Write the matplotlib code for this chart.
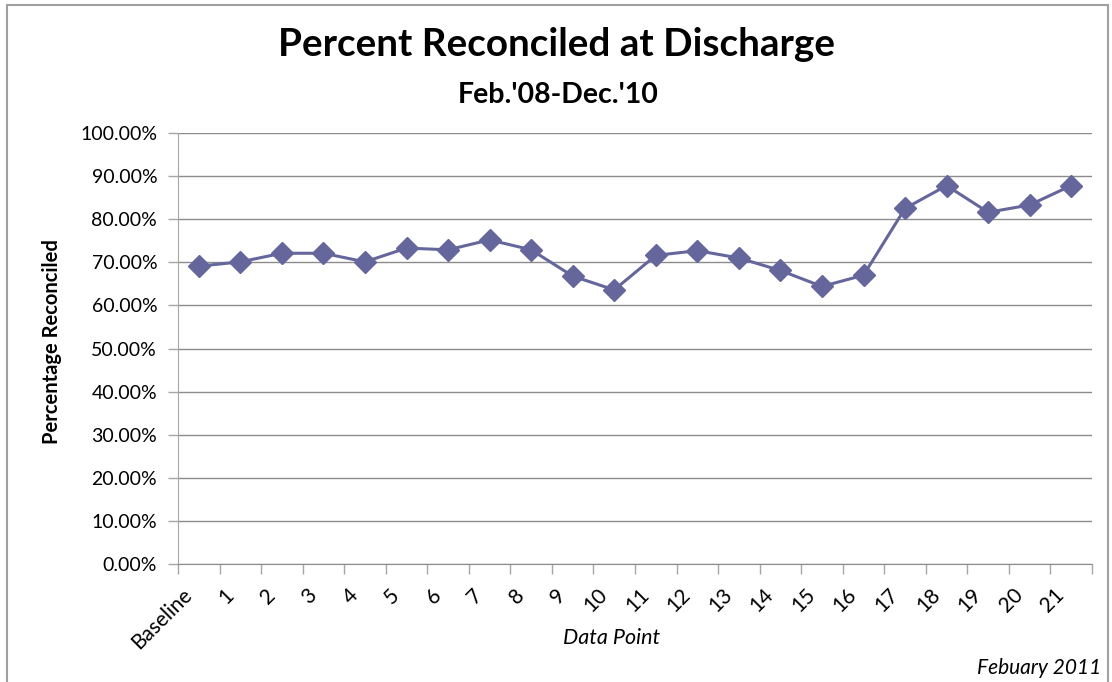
import matplotlib.pyplot as plt
import matplotlib.patches as mpatches
import matplotlib.transforms as mtransforms
from matplotlib.ticker import FixedLocator, PercentFormatter

plt.rcParams["font.family"] = ["Lato", "DejaVu Sans"]

# percent of patients reconciled at discharge, per data point
categories = ["Baseline"] + [str(i) for i in range(1, 22)]
reconciled = [
    69.1, 70.1, 72.1, 72.1, 70.1, 73.3, 72.9, 75.2, 72.9, 66.8, 63.6,
    71.6, 72.7, 71.0, 68.1, 64.4, 67.0, 82.5, 87.8, 81.6, 83.3, 87.8,
]
y_ticks = list(range(0, 101, 10))

LINE_COLOR = "#65669b"
GRID_COLOR = "#8c8c8c"
AXIS_COLOR = "#a6a6a6"

fig = plt.figure(figsize=(11.12, 6.82), dpi=100)
ax = fig.add_axes([178 / 1112, 1 - 564 / 682, (1092 - 178) / 1112, (564 - 133) / 682])

x = list(range(len(categories)))
ax.plot(x, reconciled, color=LINE_COLOR, lw=2.2, marker="D", ms=11.5,
        mfc=LINE_COLOR, mec=LINE_COLOR, zorder=3, clip_on=False)

ax.set_xlim(-0.5, len(categories) - 0.5)
ax.set_ylim(0, 100)
ax.yaxis.set_major_locator(FixedLocator(y_ticks))
ax.yaxis.set_major_formatter(PercentFormatter(decimals=2))
ax.grid(axis="y", color=GRID_COLOR, lw=1.0)
ax.set_axisbelow(True)

# category boundaries carry the tick marks, labels sit at the centres
ax.set_xticks([i - 0.5 for i in range(len(categories) + 1)])
ax.set_xticklabels([])
ax.set_xticks(x, minor=True)
ax.set_xticklabels(categories, minor=True, rotation=45, ha="right",
                   va="center", rotation_mode="anchor", fontsize=15)
ax.tick_params(axis="x", which="major", length=7, color=AXIS_COLOR, width=1)
ax.tick_params(axis="x", which="minor", length=0, pad=20)
ax.tick_params(axis="y", length=7, color=AXIS_COLOR, width=1, labelsize=14, pad=8)

# nudge the slanted labels left so they hang under their category
shift = mtransforms.ScaledTranslation(-10 / 100, 0, fig.dpi_scale_trans)
for lbl in ax.get_xticklabels(minor=True):
    lbl.set_transform(lbl.get_transform() + shift)

for side in ("top", "right"):
    ax.spines[side].set_visible(False)
ax.spines["left"].set_color(AXIS_COLOR)
ax.spines["bottom"].set_color(GRID_COLOR)

fig.text(52 / 1112, 1 - 342 / 682, "Percentage Reconciled", rotation=90,
         ha="center", va="center", fontsize=14.5, fontweight="bold")
fig.text(612 / 1112, 1 - 638 / 682, "Data Point", ha="center", va="center",
         fontsize=15.5, style="italic")
fig.text(557 / 1112, 1 - 45 / 682, "Percent Reconciled at Discharge",
         ha="center", va="center", fontsize=27.8, fontweight="bold")
fig.text(558 / 1112, 1 - 95 / 682, "Feb.'08-Dec.'10", ha="center",
         va="center", fontsize=20.5, fontweight="bold")
fig.text(1101 / 1112, 1 - 668 / 682, "Febuary 2011", ha="right",
         va="center", fontsize=15, style="italic")

# chart frame
fig.patches.append(mpatches.Rectangle(
    (7 / 1112, -0.05), (1108 - 7) / 1112, 1.05 - 5 / 682,
    transform=fig.transFigure, fill=False, ec="#a0a0a0", lw=1.5))

fig.savefig("out.png", dpi=100)
